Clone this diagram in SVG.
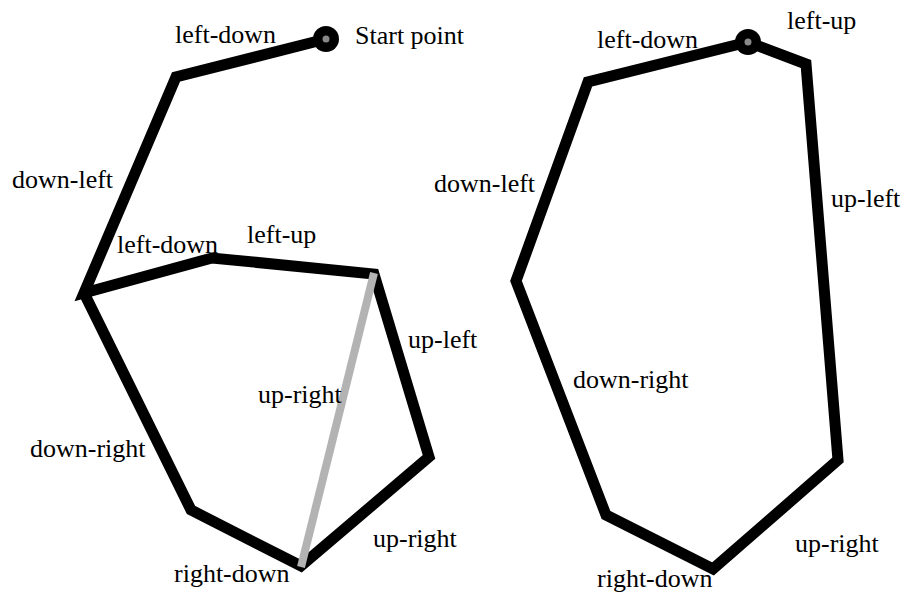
<svg xmlns="http://www.w3.org/2000/svg" width="904" height="592" viewBox="0 0 904 592">
<style>
.p{fill:none;stroke:#000;stroke-width:11;stroke-linejoin:miter}
.g{fill:none;stroke:#b3b3b3;stroke-width:8}
.lbl text{font-family:'Liberation Serif','Times New Roman',serif;font-size:26px;fill:#000}
</style>
<rect width="904" height="592" fill="#fff"/>
<g id="connectors">
<polyline class="p" points="326,39 176,77 84,293 212,258 374,274 429,457 301,566 191,510 84,293"/>
<line class="g" x1="374" y1="273" x2="301" y2="567"/>
<polygon class="p" points="748,42 588,82 516,281 606,515 713,569 838,460 806,64"/>
</g>
<g id="start1"><circle cx="326" cy="39" r="13" fill="#000"/><circle cx="326" cy="39" r="3.5" fill="#888"/></g>
<g id="start2"><circle cx="748" cy="42" r="13" fill="#000"/><circle cx="748" cy="42" r="3.5" fill="#888"/></g>
<g id="labels" class="lbl">
<text x="175" y="43">left-down</text>
<text x="355" y="44">Start point</text>
<text x="12" y="188">down-left</text>
<text x="117" y="253">left-down</text>
<text x="247" y="243">left-up</text>
<text x="408" y="348">up-left</text>
<text x="258" y="403">up-right</text>
<text x="30" y="457">down-right</text>
<text x="174" y="582">right-down</text>
<text x="373" y="547">up-right</text>
<text x="597" y="48">left-down</text>
<text x="787" y="29">left-up</text>
<text x="434" y="192">down-left</text>
<text x="831" y="207">up-left</text>
<text x="573" y="388">down-right</text>
<text x="795" y="552">up-right</text>
<text x="597" y="587">right-down</text>
</g>
</svg>
